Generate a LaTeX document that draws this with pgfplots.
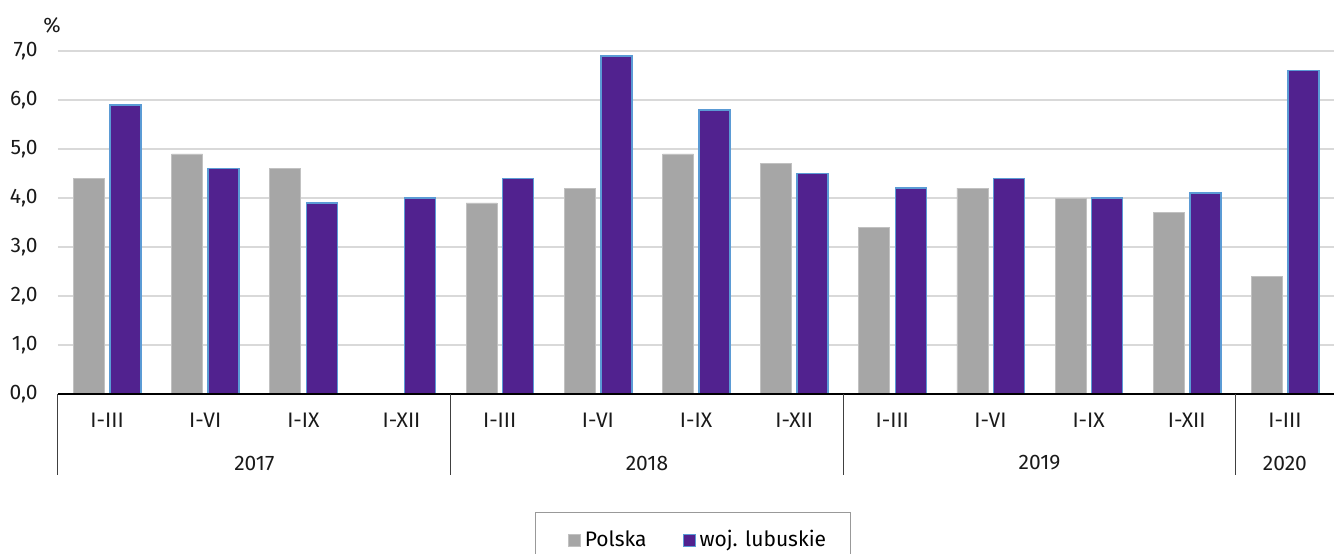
\documentclass[border=0pt]{standalone}
\usepackage{fontspec}
\setmainfont{Fira Sans}
\usepackage{pgfplots}
\pgfplotsset{compat=1.18}
\definecolor{polska}{HTML}{A6A6A6}
\definecolor{lubus}{HTML}{51228F}
\definecolor{edgeblue}{HTML}{5B9BD5}
\definecolor{gridc}{HTML}{D9D9D9}
\definecolor{txt}{HTML}{1A1A1A}
\pgfplotsset{firstleg/.style={legend image code/.code={%
  \path (-6pt,0pt); \draw[##1, line width=0.5pt] (0pt,-3pt) rectangle (6pt,3pt);}}}

\begin{document}
\fontsize{10.5}{12}\selectfont
\begin{tikzpicture}
\path[use as bounding box] (-29pt,-79.5pt) rectangle (638pt,197pt);
\begin{axis}[
    scale only axis,
    width=638pt, height=171.5pt,
    xmin=-0.5, xmax=12.5,
    ymin=0, ymax=7,
    ytick={0,1,...,7},
    xtick={0,1,...,12},
    xticklabels={I-III,I-VI,I-IX,I-XII,I-III,I-VI,I-IX,I-XII,I-III,I-VI,I-IX,I-XII,I-III},
    major tick length=0pt,
    axis line style={draw=none},
    ymajorgrids,
    grid style={gridc, line width=0.7pt},
    tick label style={font=\fontsize{10.5}{12}\selectfont, text=txt},
    /pgf/number format/.cd, fixed, fixed zerofill, precision=1, use comma, assume math mode=true,
    /pgfplots/.cd,
    yticklabel style={anchor=east, inner sep=0pt, xshift=-10pt},
    xticklabel style={anchor=center, inner sep=0pt, yshift=-13pt},
    ybar, bar width=15.5pt,
    legend columns=2,
    legend style={at={(0.4977,-0.344)}, anchor=north, draw=gray!80, line width=0.5pt,
        font=\fontsize{10.5}{12}\selectfont, inner xsep=10pt, inner ysep=7pt,
        /tikz/every even column/.append style={column sep=16pt}},
    legend image code/.code={\draw[#1, line width=0.5pt] (0pt,-3pt) rectangle (6pt,3pt);},
    clip=false,
]
\addplot[fill=polska, draw=polska!70!white, line width=0.4pt, bar shift=-9pt, firstleg] coordinates {
(0,4.4)(1,4.9)(2,4.6)(4,3.9)(5,4.2)(6,4.9)(7,4.7)(8,3.4)(9,4.2)(10,4.0)(11,3.7)(12,2.4)};
\addlegendentry{Polska}
\addplot[fill=lubus, draw=edgeblue, line width=0.75pt, bar shift=9.25pt] coordinates {
(0,5.9)(1,4.6)(2,3.9)(3,4.0)(4,4.4)(5,6.9)(6,5.8)(7,4.5)(8,4.2)(9,4.4)(10,4.0)(11,4.1)(12,6.6)};
\addlegendentry{woj. lubuskie}
\draw[black, line width=0.7pt] (axis cs:-0.5,0) -- (axis cs:12.5,0);
\pgfplotsinvokeforeach{-0.5,3.5,7.5,11.5}{
  \draw[black!75, line width=0.5pt] (axis cs:#1,0) -- ([yshift=-40.5pt]axis cs:#1,0);
}
\node[text=txt] at (axis cs:1.5,0) [yshift=-34.5pt] {2017};
\node[text=txt] at (axis cs:5.5,0) [yshift=-34.5pt] {2018};
\node[text=txt] at (axis cs:9.5,0) [yshift=-34.5pt] {2019};
\node[text=txt] at (axis cs:12,0) [yshift=-34.5pt] {2020};
\node[text=txt, inner sep=0pt] at (rel axis cs:0,1) [xshift=-3pt, yshift=13pt] {\%};
\end{axis}
\end{tikzpicture}
\end{document}
